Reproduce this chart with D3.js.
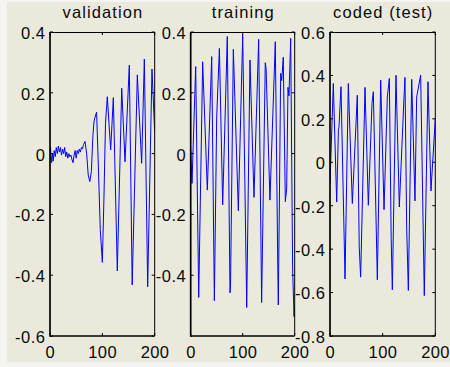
<!DOCTYPE html>
<html>
<head>
<meta charset="utf-8">
<script src="https://cdn.jsdelivr.net/npm/d3@7"></script>
<style>
  html, body { margin: 0; padding: 0; background: #f4f4f0; }
  svg { display: block; }
  text { font-family: "Liberation Sans", Arial, Helvetica, sans-serif; fill: #0a0a0a; }
</style>
</head>
<body>
<svg id="fig" width="450" height="367"></svg>
<script>
// Sample positions (t) and signal values for each subplot
const validationT = [0,1,3,5,6,8,10,12,14,16,18,20,22,24,26,28,30,32,34,36,38,40,42,44,46,48,50,52,54,56,58,60,62,64,67,70,73,76,79,82,84,86,89,92,96,100,103,106,109.5,115.9,121,128.6,137,143.3,151.5,157,166.8,175.1,180.2,186.6,194.8,200];
const validationV = [-0.02,0.02,-0.03,0.0,-0.025,0.01,-0.01,0.02,0.0,0.025,0.005,0.02,-0.005,0.015,0.0,0.02,-0.01,0.005,-0.015,0.0,-0.01,-0.005,-0.02,-0.03,-0.005,0.01,-0.015,0.01,0.0,0.015,0.005,0.02,0.015,0.03,0.04,0.0,-0.07,-0.092,-0.06,0.06,0.105,0.12,0.136,-0.02,-0.25,-0.358,-0.15,0.1,0.187,0.012,0.184,-0.386,0.215,-0.027,0.291,-0.432,0.259,-0.032,0.311,-0.438,0.278,0.07];

const trainingT = [0,2.5,9.6,15.4,23,32,40.4,45.5,50,55.2,61.5,70.4,75.6,76.6,82,91.6,100,107.7,114,121.7,130.7,136.4,143.4,145,152.4,162.7,167.5,168.5,173,175,178,182,184.6,187.1,189,192.3,196,198.7,200];
const trainingV = [0.012,-0.098,0.286,-0.473,0.302,-0.12,0.319,-0.484,0.12,0.346,-0.169,0.385,-0.458,-0.43,0.343,-0.188,0.39,-0.506,0.308,-0.144,0.376,-0.49,0.299,0.28,-0.153,0.368,-0.38,-0.498,0.264,0.24,0.317,-0.158,-0.114,0.218,0.19,0.379,-0.377,-0.536,-0.5];

const testT = [0,6.3,12.7,16,17.1,20.9,28.5,34.8,42.4,51.9,55.5,58.2,66.5,72.8,79.8,82.3,89.9,96.3,102.6,108.9,112.7,116.2,118.4,125.3,131.7,139.5,142.4,145.6,148.8,155.2,161.4,164.6,172.2,179.1,186.1,191.8,200];
const testV = [-0.098,0.363,-0.183,0.15,0.163,0.348,-0.537,0.363,-0.19,0.309,-0.39,-0.529,0.345,-0.198,0.271,0.325,-0.541,0.378,-0.218,0.3,0.386,-0.352,-0.587,0.401,-0.206,0.24,0.391,-0.298,-0.59,0.382,-0.178,0.301,0.401,-0.614,0.371,-0.132,0.202];

const titles = ["validation", "training", "coded (test)"];
const xTicks = [0, 100, 200];
const yTicks1 = ["0.4","0.2","0","-0.2","-0.4","-0.6"];
const yTicks2 = ["0.4","0.2","0","-0.2","-0.4"];
const yTicks3 = ["0.6","0.4","0.2","0","-0.2","-0.4","-0.6","-0.8"];
const yDomains = [[-0.6, 0.4], [-0.6, 0.4], [-0.8, 0.6]];

const panels = [
  { t: validationT, v: validationV, title: titles[0], yTicks: yTicks1, yDomain: yDomains[0], left: 50,    right: 154.7 },
  { t: trainingT,   v: trainingV,   title: titles[1], yTicks: yTicks2, yDomain: yDomains[1], left: 190.7, right: 294.7 },
  { t: testT,       v: testV,       title: titles[2], yTicks: yTicks3, yDomain: yDomains[2], left: 330,   right: 435.3 }
];
const plotTop = 32, plotBottom = 336;

const svg = d3.select("#fig");
// figure background
svg.append("rect").attr("x", 0).attr("y", 0).attr("width", 450).attr("height", 367).attr("fill", "#f4f4f0");
svg.append("rect").attr("x", 7).attr("y", 2).attr("width", 443).attr("height", 360).attr("fill", "#ebe9dc");

panels.forEach((p, i) => {
  const x = d3.scaleLinear().domain([0, 200]).range([p.left, p.right]);
  const y = d3.scaleLinear().domain(p.yDomain).range([plotBottom, plotTop]);
  const g = svg.append("g");
  const clipId = "clip" + i;
  svg.append("clipPath").attr("id", clipId)
    .append("rect").attr("x", p.left).attr("y", plotTop).attr("width", p.right - p.left).attr("height", plotBottom - plotTop);

  // signal trace
  const pts = p.t.map((t, k) => [t, p.v[k]]);
  g.append("path")
    .datum(pts)
    .attr("clip-path", `url(#${clipId})`)
    .attr("fill", "none")
    .attr("stroke", "#0000ff")
    .attr("stroke-width", 1)
    .attr("stroke-linejoin", "round")
    .attr("d", d3.line().x(d => x(d[0])).y(d => y(d[1])));

  // inward ticks on all four sides
  const tickLen = 3;
  xTicks.forEach(t => {
    g.append("line").attr("x1", x(t)).attr("x2", x(t)).attr("y1", plotBottom).attr("y2", plotBottom - tickLen).attr("stroke", "#000");
    g.append("line").attr("x1", x(t)).attr("x2", x(t)).attr("y1", plotTop).attr("y2", plotTop + tickLen).attr("stroke", "#000");
  });
  p.yTicks.forEach(s => {
    const v = +s;
    g.append("line").attr("x1", p.left).attr("x2", p.left + tickLen).attr("y1", y(v)).attr("y2", y(v)).attr("stroke", "#000");
    g.append("line").attr("x1", p.right).attr("x2", p.right - tickLen).attr("y1", y(v)).attr("y2", y(v)).attr("stroke", "#000");
  });

  // box
  g.append("line").attr("x1", p.left).attr("x2", p.right).attr("y1", plotTop + 0.5).attr("y2", plotTop + 0.5).attr("stroke", "#000").attr("stroke-width", 1);
  g.append("line").attr("x1", p.right).attr("x2", p.right).attr("y1", plotTop).attr("y2", plotBottom).attr("stroke", "#000").attr("stroke-width", 1);
  g.append("line").attr("x1", p.left).attr("x2", p.left).attr("y1", plotTop).attr("y2", plotBottom + 0.8).attr("stroke", "#000").attr("stroke-width", 1.7);
  g.append("line").attr("x1", p.left).attr("x2", p.right).attr("y1", plotBottom).attr("y2", plotBottom).attr("stroke", "#000").attr("stroke-width", 1.7);

  // tick labels
  g.selectAll(".yl").data(p.yTicks).enter().append("text")
    .attr("x", p.left - 4.5).attr("y", d => y(+d) + 6.9)
    .attr("text-anchor", "end").attr("font-size", 16.5).attr("letter-spacing", 0.5)
    .text(d => d);
  g.selectAll(".xl").data(xTicks).enter().append("text")
    .attr("x", d => x(d) + 0.3).attr("y", plotBottom + 22)
    .attr("text-anchor", "middle").attr("font-size", 16.5).attr("letter-spacing", 0.4)
    .text(d => d);

  // title
  g.append("text")
    .attr("x", (p.left + p.right) / 2 + 0.6).attr("y", 17.5)
    .attr("text-anchor", "middle").attr("font-size", 16.5).attr("letter-spacing", 1.1)
    .text(p.title);
});
</script>
</body>
</html>
